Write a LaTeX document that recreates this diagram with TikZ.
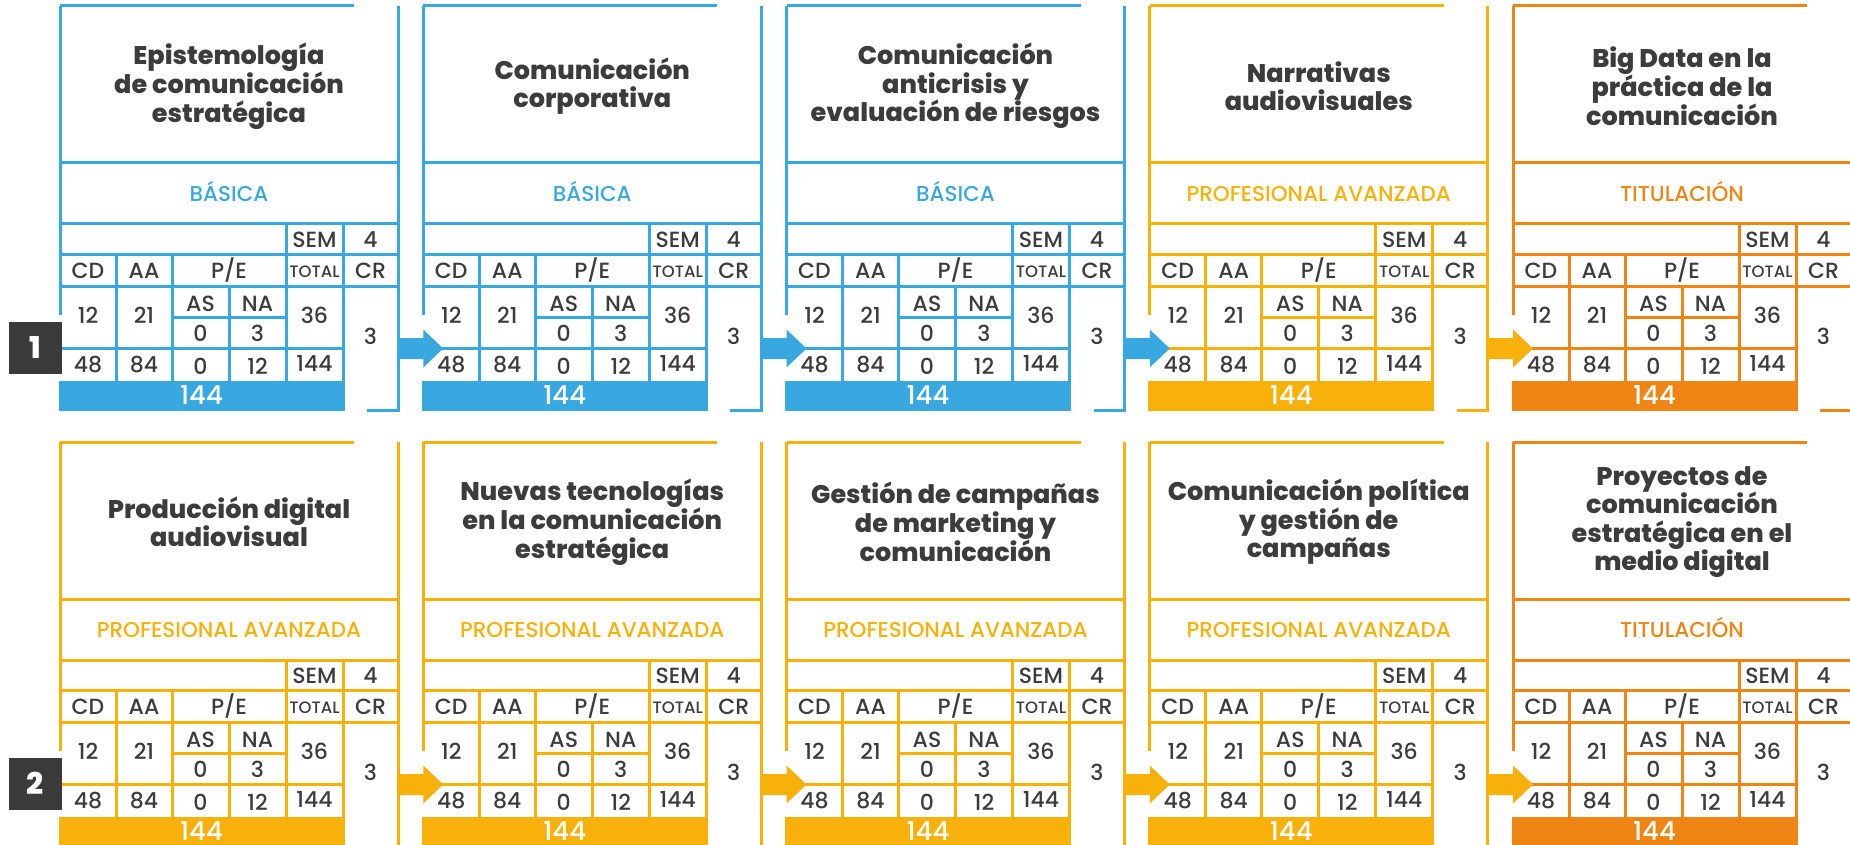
\documentclass[tikz,border=0pt]{standalone}
\usepackage{fontspec}
\setmainfont{Poppins}[UprightFont=* Medium, BoldFont=* ExtraBold]
\definecolor{cblue}{HTML}{3AA8E0}
\definecolor{cyel}{HTML}{F7B10A}
\definecolor{corg}{HTML}{EE8514}
\definecolor{ctext}{HTML}{3C3C3C}
\definecolor{cbadge}{HTML}{3B3B3B}
\tikzset{
  ttl/.style={font=\fontsize{25.5}{28.5}\selectfont\bfseries, text=ctext, align=center, inner sep=0pt},
  cattext/.style={font=\fontsize{21.5}{22}\selectfont, text height=15pt, text depth=0pt, inner sep=0pt},
  cellt/.style={font=\fontsize{22}{22}\selectfont, text=ctext, text height=15.4pt, text depth=0pt, inner sep=0pt},
  tinycell/.style={font=\fontsize{16.5}{16.5}\selectfont, text=ctext, text height=11.5pt, text depth=0pt, inner sep=0pt},
  bartext/.style={font=\fontsize{26}{26}\selectfont, text=white, text height=18.2pt, text depth=0pt, inner sep=0pt},
  badge/.style={fill=cbadge, text=white, font=\fontsize{30}{30}\selectfont\bfseries, minimum width=53pt, minimum height=52pt, inner sep=0pt, text height=21pt, text depth=0pt},
}
\newcommand\coursecard[6]{%
\begin{scope}[shift={(#2,#3)}, draw=#4, line width=3pt]
  \draw (0,0) -- (294,0);
  \draw (338,0) -- (338,404) -- (307,404);
  \draw (0,0) -- (0,309);
  \foreach \yy in {157,218,248,280} \draw (0,\yy) -- (338,\yy);
  \draw (0,342) -- (283,342);
  \draw (112,311) -- (226,311);
  \draw (226,218) -- (226,375) (283,218) -- (283,375);
  \draw (56,248) -- (56,375) (112,248) -- (112,375) (169,280) -- (169,375);
  \fill[#4] (-1.5,375) rectangle (284.5,405);
  \coordinate (#1-in) at (0,342.5);
  \coordinate (#1-out) at (338,342.5);
  \node[ttl] (#1-title) at (169,80) {#5};
  \node[cattext, text=#4] (#1-cat) at (169,188) {#6};
  \node[cellt] (#1-sem) at (254.5,233.5) {SEM};
  \node[cellt] (#1-semv) at (310.5,233.5) {4};
  \node[cellt] (#1-cd) at (28,264.5) {CD};
  \node[cellt] (#1-aa) at (84,264.5) {AA};
  \node[cellt] (#1-pe) at (169,264.5) {P/E};
  \node[tinycell] (#1-tot) at (254.5,265.5) {TOTAL};
  \node[cellt] (#1-cr) at (310.5,264.5) {CR};
  \node[cellt] (#1-cdv) at (28,309.5) {12};
  \node[cellt] (#1-aav) at (84,309.5) {21};
  \node[cellt] (#1-as) at (140.5,298) {AS};
  \node[cellt] (#1-na) at (197.5,298) {NA};
  \node[cellt] (#1-asv) at (140.5,327.5) {0};
  \node[cellt] (#1-nav) at (197.5,327.5) {3};
  \node[cellt] (#1-totv) at (254.5,309.5) {36};
  \node[cellt] (#1-crv) at (310.5,330.5) {3};
  \node[cellt] (#1-cdh) at (28,358.5) {48};
  \node[cellt] (#1-aah) at (84,358.5) {84};
  \node[cellt] (#1-ash) at (140.5,361) {0};
  \node[cellt] (#1-nah) at (197.5,361) {12};
  \node[cellt] (#1-toth) at (254.5,358) {144};
  \node[bartext] (#1-bar) at (141.5,389.5) {144};
\end{scope}}
\newcommand\flowarrow[2]{%
  \fill[#2] (#1) ++(0,-10.5) -- ++(25.25,0) -- ++(0,-8.5) -- ++(20,19) -- ++(-20,19) -- ++(0,-8.5) -- ++(-25.25,0) -- cycle;}
\begin{document}
\begin{tikzpicture}[x=1pt,y=-1pt]
\useasboundingbox (0,0) rectangle (1850,845);
% row 1
\coursecard{ca1}{60}{6}{cblue}{Epistemología\\de comunicación\\estratégica}{BÁSICA}
\coursecard{ca2}{423.25}{6}{cblue}{Comunicación\\corporativa}{BÁSICA}
\coursecard{ca3}{786.5}{6}{cblue}{Comunicación\\anticrisis y\\evaluación de riesgos}{BÁSICA}
\coursecard{ca4}{1149.75}{6}{cyel}{Narrativas\\audiovisuales}{PROFESIONAL AVANZADA}
\coursecard{ca5}{1513}{6}{corg}{Big Data en la\\práctica de la\\comunicación}{TITULACIÓN}
% row 2
\coursecard{cb1}{60}{442}{cyel}{Producción digital\\audiovisual}{PROFESIONAL AVANZADA}
\coursecard{cb2}{423.25}{442}{cyel}{Nuevas tecnologías\\en la comunicación\\estratégica}{PROFESIONAL AVANZADA}
\coursecard{cb3}{786.5}{442}{cyel}{Gestión de campañas\\de marketing y\\comunicación}{PROFESIONAL AVANZADA}
\coursecard{cb4}{1149.75}{442}{cyel}{Comunicación política\\y gestión de\\campañas}{PROFESIONAL AVANZADA}
\coursecard{cb5}{1513}{442}{corg}{Proyectos de\\comunicación\\estratégica en el\\medio digital}{TITULACIÓN}
% arrows
\flowarrow{ca1-out}{cblue}
\flowarrow{ca2-out}{cblue}
\flowarrow{ca3-out}{cblue}
\flowarrow{ca4-out}{cyel}
\flowarrow{cb1-out}{cyel}
\flowarrow{cb2-out}{cyel}
\flowarrow{cb3-out}{cyel}
\flowarrow{cb4-out}{cyel}
% badges
\node[badge] (badge1) at (35.5,348) {1};
\node[badge] (badge2) at (35.5,784) {2};
\end{tikzpicture}
\end{document}
